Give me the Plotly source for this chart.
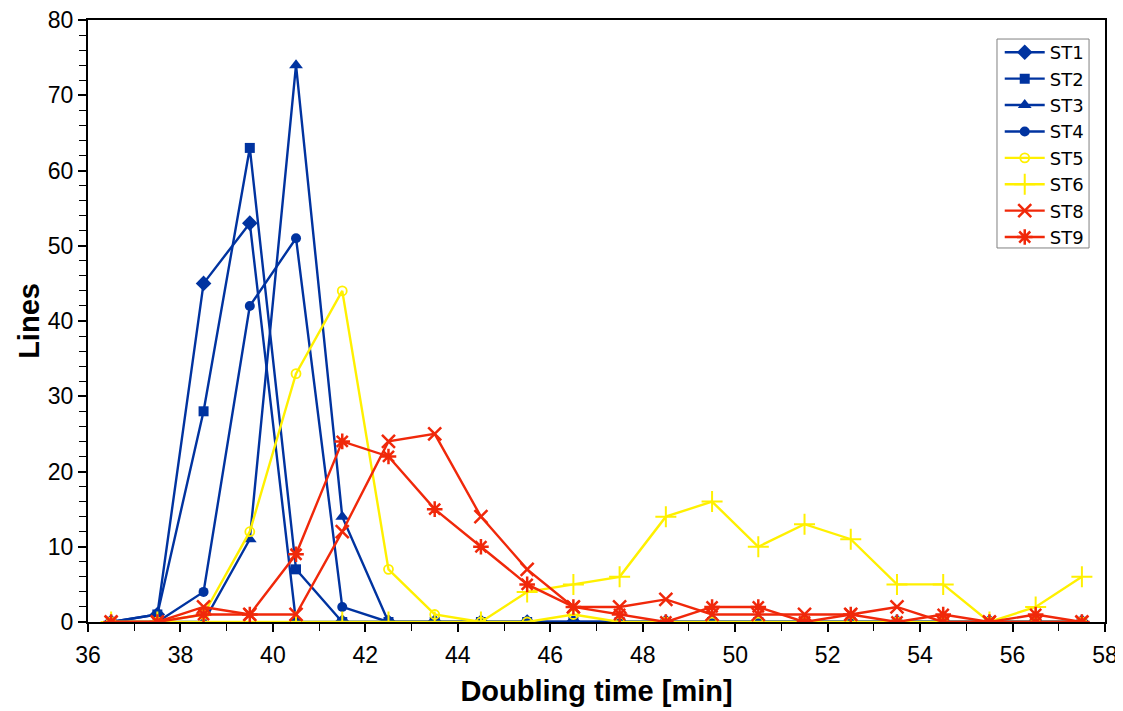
import plotly.graph_objects as go

x_vals = [36.5, 37.5, 38.5, 39.5, 40.5, 41.5, 42.5, 43.5, 44.5, 45.5, 46.5,
          47.5, 48.5, 49.5, 50.5, 51.5, 52.5, 53.5, 54.5, 55.5, 56.5, 57.5]

st1 = [0, 1, 45, 53, 0, 0, 0, 0, 0, 0, 0, 0, 0, 0, 0, 0, 0, 0, 0, 0, 0, 0]
st2 = [0, 1, 28, 63, 7, 0, 0, 0, 0, 0, 0, 0, 0, 0, 0, 0, 0, 0, 0, 0, 0, 0]
st3 = [0, 0, 0, 11, 74, 14, 0, 0, 0, 0, 0, 0, 0, 0, 0, 0, 0, 0, 0, 0, 0, 0]
st4 = [0, 0, 4, 42, 51, 2, 0, 0, 0, 0, 0, 0, 0, 0, 0, 0, 0, 0, 0, 0, 0, 0]
st5 = [0, 0, 1, 12, 33, 44, 7, 1, 0, 0, 1, 0, 0, 0, 0, 0, 0, 0, 0, 0, 0, 0]
st6 = [0, 0, 0, 0, 0, 0, 0, 0, 0, 4, 5, 6, 14, 16, 10, 13, 11, 5, 5, 0, 2, 6]
st8 = [0, 0, 2, 1, 1, 12, 24, 25, 14, 7, 2, 2, 3, 1, 1, 1, 1, 2, 0, 0, 0, 0]
st9 = [0, 0, 1, 1, 9, 24, 22, 15, 10, 5, 2, 1, 0, 2, 2, 0, 1, 0, 1, 0, 1, 0]

BLUE = "#0033A0"
YELLOW = "#FFF000"
RED = "#F0280A"

series = [
    ("ST1", st1, BLUE, dict(symbol="diamond", size=12, color=BLUE)),
    ("ST2", st2, BLUE, dict(symbol="square", size=10, color=BLUE)),
    ("ST3", st3, BLUE, dict(symbol="triangle-up", size=12, color=BLUE)),
    ("ST4", st4, BLUE, dict(symbol="circle", size=10, color=BLUE)),
    ("ST5", st5, YELLOW, dict(symbol="circle-open", size=9, color=YELLOW, line=dict(width=1.8, color=YELLOW))),
    ("ST6", st6, YELLOW, dict(symbol="cross-thin-open", size=15, color=YELLOW, line=dict(width=2, color=YELLOW))),
    ("ST8", st8, RED, dict(symbol="x-thin-open", size=13, color=RED, line=dict(width=2.5, color=RED))),
    ("ST9", st9, RED, dict(symbol="asterisk-open", size=13, color=RED, line=dict(width=2.5, color=RED))),
]

fig = go.Figure()
for name, ys, col, mk in series:
    fig.add_trace(go.Scatter(x=x_vals, y=ys, name=name, mode="lines+markers",
                             line=dict(color=col, width=2.4), marker=mk))

axis_common = dict(
    showgrid=False, zeroline=False, showline=True, mirror=True, automargin=False,
    linecolor="black", linewidth=2, ticks="outside", ticklen=8,
    tickwidth=1.5, tickcolor="black", ticklabeloverflow="allow",
    tickfont=dict(family="Liberation Sans, Arial", size=23, color="black"),
)

# legend frame drawn as a shape so its size can match the reference
fig.add_shape(type="rect", xref="paper", yref="paper",
              x0=0.8938, x1=0.9843, y0=0.6213, y1=0.9684,
              line=dict(color="#808080", width=1), fillcolor="white", layer="above")

# page body has an 8px margin, so the figure is sized/offset to compensate
fig.update_layout(
    width=1115, height=703,
    margin=dict(l=80, r=18, t=12, b=89),
    paper_bgcolor="white", plot_bgcolor="white",
    xaxis=dict(range=[36, 58], dtick=2, tick0=36, ticklabelstandoff=3,
               minor=dict(dtick=1, ticks="outside", ticklen=7, tickcolor="black", tickwidth=1.2),
               title=dict(text="<b>Doubling time [min]</b>", standoff=14,
                          font=dict(family="Liberation Sans, Arial", size=29, color="black")),
               **axis_common),
    yaxis=dict(range=[0, 80], dtick=10, tick0=0,
               minor=dict(dtick=2, ticks="outside", ticklen=7, tickcolor="black", tickwidth=1.2),
               title=dict(text="<b>Lines</b>", standoff=0,
                          font=dict(family="Liberation Sans, Arial", size=29, color="black")),
               **axis_common),
    legend=dict(x=0.984, y=0.9767, xanchor="right", yanchor="top",
                bgcolor="rgba(0,0,0,0)", borderwidth=0,
                font=dict(family="DejaVu Sans, Verdana", size=18, color="black"),
                itemwidth=40, tracegroupgap=0),
    showlegend=True,
)

fig.write_html("out.html")
